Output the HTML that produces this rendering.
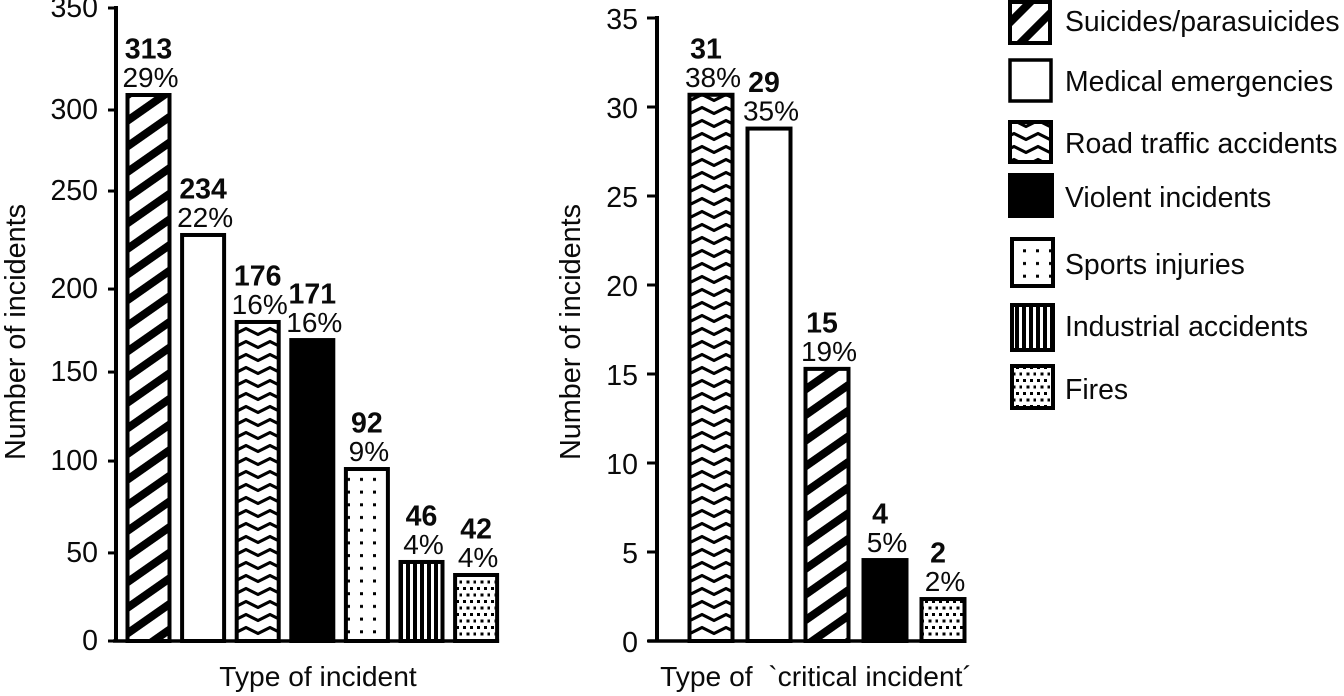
<!DOCTYPE html>
<html>
<head>
<meta charset="utf-8">
<title>Incident charts</title>
<style>
html,body{margin:0;padding:0;background:#fff;}
svg{display:block;}
text{font-family:"Liberation Sans",sans-serif;fill:#0a0a0a;}
</style>
</head>
<body>
<svg id="chart" xmlns="http://www.w3.org/2000/svg" width="1344" height="696" viewBox="0 0 1344 696">
  <defs>
    <pattern id="p-suicides" patternUnits="userSpaceOnUse" width="21" height="21" patternTransform="rotate(-35 0 0)">
      <rect width="21" height="21" fill="#fff"/><rect y="0" width="21" height="8" fill="#000"/>
    </pattern>
    <pattern id="p-suicides-key" patternUnits="userSpaceOnUse" width="22" height="22" patternTransform="rotate(-45 0 0)">
      <rect width="22" height="22" fill="#fff"/><rect y="0" width="22" height="8" fill="#000"/>
    </pattern>
    <pattern id="p-medical" patternUnits="userSpaceOnUse" width="10" height="10">
      <rect width="10" height="10" fill="#fff"/>
    </pattern>
    <pattern id="p-road" patternUnits="userSpaceOnUse" width="24" height="13">
      <rect width="24" height="13" fill="#fff"/>
      <polyline points="-6,9.5 6,3.5 18,9.5 30,3.5" fill="none" stroke="#000" stroke-width="3.2" stroke-linejoin="round"/>
    </pattern>
    <pattern id="p-violent" patternUnits="userSpaceOnUse" width="10" height="10">
      <rect width="10" height="10" fill="#000"/>
    </pattern>
    <pattern id="p-sports" patternUnits="userSpaceOnUse" x="4" y="3" width="13" height="12.7">
      <rect width="13" height="12.7" fill="#fff"/><rect x="5" y="5" width="3" height="3" fill="#000"/>
    </pattern>
    <pattern id="p-industrial" patternUnits="userSpaceOnUse" x="2" width="7" height="10">
      <rect width="7" height="10" fill="#000"/><rect x="2" width="3" height="10" fill="#fff"/>
    </pattern>
    <pattern id="p-fires" patternUnits="userSpaceOnUse" width="14" height="13">
      <rect width="14" height="13" fill="#fff"/>
      <rect x="1" y="2" width="3" height="3" fill="#000"/><rect x="8" y="2" width="3" height="3" fill="#000"/>
      <rect x="4.5" y="8.5" width="3" height="3" fill="#000"/><rect x="11.5" y="8.5" width="3" height="3" fill="#000"/>
    </pattern>
  </defs>

  <rect width="1344" height="696" fill="#fff"/>

  <g id="left-chart"></g>
  <g id="right-chart"></g>

  <g font-size="28.4">
    <g>
      <rect x="1010" y="2" width="40" height="41" fill="url(#p-suicides-key)" stroke="#000" stroke-width="4"/>
      <text x="1065" y="31">Suicides/parasuicides</text>
    </g>
    <g>
      <rect x="1010" y="60" width="41" height="41" fill="#fff" stroke="#000" stroke-width="3.5"/>
      <text x="1065" y="91">Medical emergencies</text>
    </g>
    <g>
      <rect x="1010" y="122" width="41" height="40" fill="url(#p-road)" stroke="#000" stroke-width="4"/>
      <text x="1065" y="153">Road traffic accidents</text>
    </g>
    <g>
      <rect x="1008" y="173" width="46" height="45" fill="#000"/>
      <text x="1065" y="207">Violent incidents</text>
    </g>
    <g>
      <rect x="1012" y="239" width="41" height="47" fill="url(#p-sports)" stroke="#000" stroke-width="4"/>
      <text x="1065" y="274">Sports injuries</text>
    </g>
    <g>
      <rect x="1012" y="305" width="41" height="45" fill="url(#p-industrial)" stroke="#000" stroke-width="4"/>
      <text x="1065" y="336">Industrial accidents</text>
    </g>
    <g>
      <rect x="1012" y="366" width="41" height="42" fill="url(#p-fires)" stroke="#000" stroke-width="4"/>
      <text x="1065" y="399">Fires</text>
    </g>
  </g>
</svg>

<script>
// Left chart: bar heights as read against the y axis, then the numbers printed above the bars.
var leftBarValues = [303, 225.6, 177.5, 167.5, 96.2, 44.8, 37.6];
var leftPrintedCounts = [313, 234, 176, 171, 92, 46, 42];
var leftPrintedPercents = [29, 22, 16, 16, 9, 4, 4];
var leftCategories = ['suicides', 'medical', 'road', 'violent', 'sports', 'industrial', 'fires'];
var leftTickLabels = [0, 50, 100, 150, 200, 250, 300, 350];
// Where each printed tick actually sits when read on a straight 0-350 axis (the print is uneven).
var leftTickReadings = [0, 48.7, 99.5, 148.7, 194.6, 248.8, 293.6, 350];

// Right chart.
var rightBarValues = [30.8, 28.9, 15.4, 4.66, 2.47];
var rightPrintedCounts = [31, 29, 15, 4, 2];
var rightPrintedPercents = [38, 35, 19, 5, 2];
var rightCategories = ['road', 'medical', 'suicides', 'violent', 'fires'];
var rightTickLabels = [0, 5, 10, 15, 20, 25, 30, 35];
var rightTickReadings = [0, 5, 10, 15, 20, 25, 30, 35];

var NS = 'http://www.w3.org/2000/svg';

function make(tag, parent, attrs, content) {
  var el = document.createElementNS(NS, tag);
  for (var k in attrs) { el.setAttribute(k, attrs[k]); }
  if (content !== undefined) { el.textContent = content; }
  parent.appendChild(el);
  return el;
}

function drawChart(cfg) {
  var root = document.getElementById(cfg.id);
  var y = function (v) { return cfg.y0 - v * (cfg.y0 - cfg.yTop) / cfg.max; };
  var x = function (i) { return cfg.c0 + i * cfg.step; };

  // y axis line
  var axis = make('line', root, { x1: cfg.axisX, x2: cfg.axisX, y1: y(cfg.max) - 2, y2: cfg.y0 + 1.5, stroke: '#000', 'stroke-width': 4 });
  
  

  // ticks and tick labels
  cfg.tickLabels.forEach(function (label, i) {
    var py = y(cfg.tickReadings[i]);
    var tick = make('line', root, { x1: cfg.axisX - cfg.tickLen, x2: cfg.axisX, y1: py, y2: py, stroke: '#000', 'stroke-width': 3 });
    
    
    var txt = make('text', root, { x: cfg.labelX, y: py + cfg.labelDy, 'text-anchor': 'end', 'font-size': 28.5 }, String(label));
    
    
  });

  // baseline
  var base = make('line', root, { x1: cfg.baseStart, x2: x(cfg.values.length - 1) + cfg.barW / 2, y1: cfg.y0, y2: cfg.y0, stroke: '#000', 'stroke-width': 3.5 });
  
  

  // bars and their labels
  cfg.values.forEach(function (v, i) {
    var cat = cfg.categories[i];
    var top = y(v);
    var bar = make('rect', root, {
      x: x(i) - cfg.barW / 2 + 2, y: top + 2,
      width: cfg.barW - 4, height: Math.max(0, cfg.y0 - top - 2),
      fill: 'url(#p-' + cat + ')', stroke: '#000', 'stroke-width': 4
    });
    
    

    var count = make('text', root, { x: x(i) + cfg.countDx, y: top - 34.5, 'text-anchor': 'middle', 'font-size': 28.5, 'font-weight': 'bold' }, String(cfg.counts[i]));
    
    

    var pct = make('text', root, { x: x(i) + 2, y: top - 6, 'text-anchor': 'middle', 'font-size': 28 }, cfg.percents[i] + '%');
    
    
  });

  // axis titles
  var yt = make('text', root, { 'text-anchor': 'middle', 'font-size': 28.8, transform: 'translate(' + cfg.yTitleX + ',332) rotate(-90)' }, 'Number of incidents');
  
  

  var xt = make('text', root, { x: cfg.xTitleX, y: 686, 'text-anchor': 'middle', 'font-size': 28.2 }, cfg.xTitle);
  
  
}

drawChart({
  id: 'left-chart', max: 350, y0: 641, yTop: 8, axisX: 116, tickLen: 8, labelX: 98, labelDy: 9,
  baseStart: 113, c0: 148.5, step: 54.6, barW: 46, countDx: 0,
  values: leftBarValues, counts: leftPrintedCounts, percents: leftPrintedPercents, categories: leftCategories,
  tickLabels: leftTickLabels, tickReadings: leftTickReadings,
  yTitleX: 25, xTitleX: 318, xTitle: 'Type of incident'
});

drawChart({
  id: 'right-chart', max: 35, y0: 641, yTop: 18, axisX: 657, tickLen: 10, labelX: 638, labelDy: 11,
  baseStart: 648, c0: 711, step: 58, barW: 47, countDx: -5,
  values: rightBarValues, counts: rightPrintedCounts, percents: rightPrintedPercents, categories: rightCategories,
  tickLabels: rightTickLabels, tickReadings: rightTickReadings,
  yTitleX: 580, xTitleX: 816, xTitle: 'Type of\u00A0 `critical incident\u00B4'
});
</script>
</body>
</html>
